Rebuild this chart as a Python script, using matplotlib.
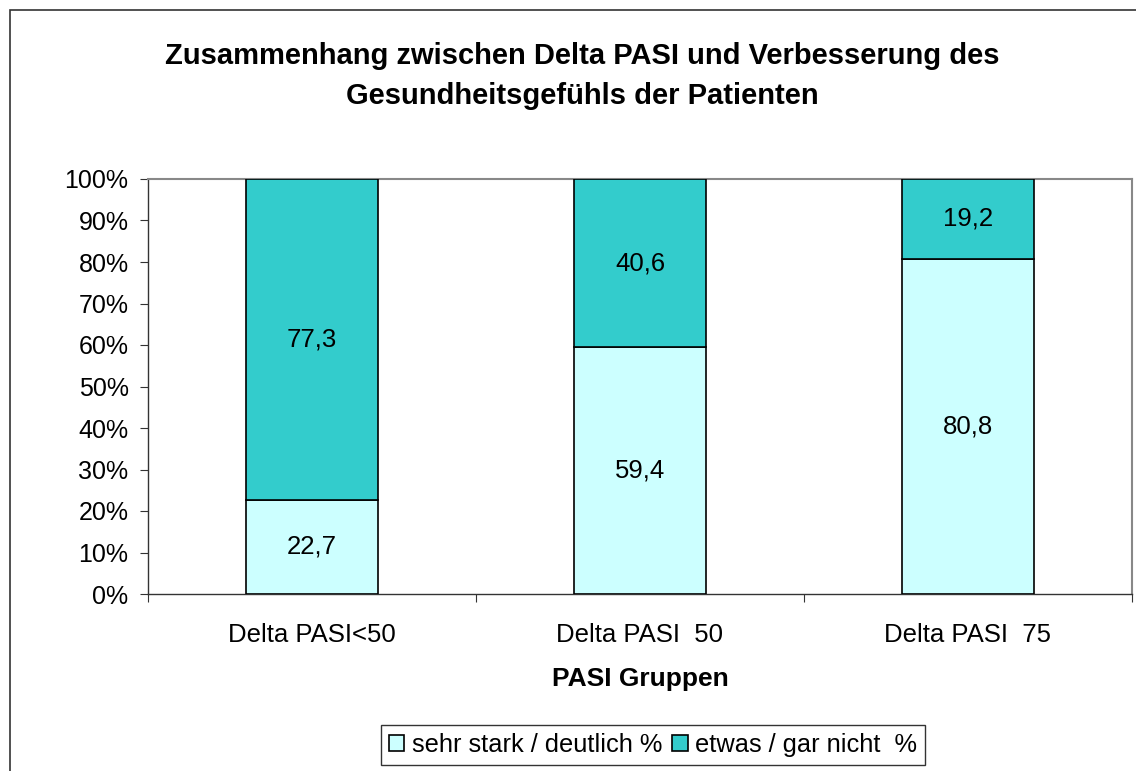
import matplotlib
matplotlib.use("Agg")
import matplotlib.pyplot as plt
from matplotlib.patches import Rectangle
from matplotlib.ticker import FuncFormatter

plt.rcParams["font.family"] = ["Liberation Sans", "DejaVu Sans"]

categories = ["Delta PASI<50", "Delta PASI  50", "Delta PASI  75"]
sehr_stark = [22.7, 59.4, 80.8]
etwas = [77.3, 40.6, 19.2]
series_names = ["sehr stark / deutlich %", "etwas / gar nicht  %"]

fig = plt.figure(figsize=(11.36, 7.71), dpi=100)
fig.patches.append(Rectangle((10 / 1136, -0.05), 1.2, (761 / 771) + 0.05,
                             transform=fig.transFigure, fill=False,
                             edgecolor="#333333", linewidth=1.2))

ax = fig.add_axes([148 / 1136, 177 / 771, 984 / 1136, 415 / 771])
x = list(range(len(categories)))
width = 0.4
ax.bar(x, sehr_stark, width, color="#CCFFFF", edgecolor="black", linewidth=1.2,
       label=series_names[0], zorder=3)
ax.bar(x, etwas, width, bottom=sehr_stark, color="#33CCCC", edgecolor="black",
       linewidth=1.2, label=series_names[1], zorder=3)

for i in x:
    ax.text(i, sehr_stark[i] / 2, f"{sehr_stark[i]:.1f}".replace(".", ","),
            ha="center", va="center", fontsize=18.5)
    ax.text(i, sehr_stark[i] + etwas[i] / 2, f"{etwas[i]:.1f}".replace(".", ","),
            ha="center", va="center", fontsize=18.5)

ax.set_xlim(-0.5, 2.5)
ax.set_ylim(0, 100)
ax.set_yticks(range(0, 101, 10))
ax.yaxis.set_major_formatter(FuncFormatter(lambda v, p: f"{int(v)}%"))
ax.set_xticks([-0.5, 0.5, 1.5, 2.5])
ax.set_xticklabels([])
ax.set_xticks(x, minor=True)
ax.set_xticklabels(categories, minor=True)
ax.tick_params(axis="x", which="minor", length=0, pad=21, labelsize=18.5)
ax.tick_params(axis="x", which="major", length=6, direction="out", color="#333333")
ax.tick_params(axis="y", length=6, direction="out", labelsize=18, pad=8, color="#333333")

for side in ["top", "right"]:
    ax.spines[side].set_color("#888888")
    ax.spines[side].set_linewidth(1.5)
for side in ["left", "bottom"]:
    ax.spines[side].set_color("#333333")
    ax.spines[side].set_linewidth(1.0)

ax.set_xlabel("PASI Gruppen", fontsize=19, fontweight="bold", labelpad=14)

fig.text(582 / 1136, 1 - 56 / 771, "Zusammenhang zwischen Delta PASI und Verbesserung des",
         ha="center", va="center", fontsize=21, fontweight="bold")
fig.text(582 / 1136, 1 - 96 / 771, "Gesundheitsgefühls der Patienten",
         ha="center", va="center", fontsize=21, fontweight="bold")

leg = fig.legend(loc="center", bbox_to_anchor=(653 / 1136, 1 - 745 / 771), ncol=2,
                 fontsize=18.3, frameon=True, fancybox=False, handlelength=0.6,
                 handleheight=0.6, handletextpad=0.3, columnspacing=0.4,
                 borderpad=0.3, borderaxespad=0)
leg.get_frame().set_edgecolor("black")
leg.get_frame().set_linewidth(1.0)

fig.savefig("out.png", dpi=100)
